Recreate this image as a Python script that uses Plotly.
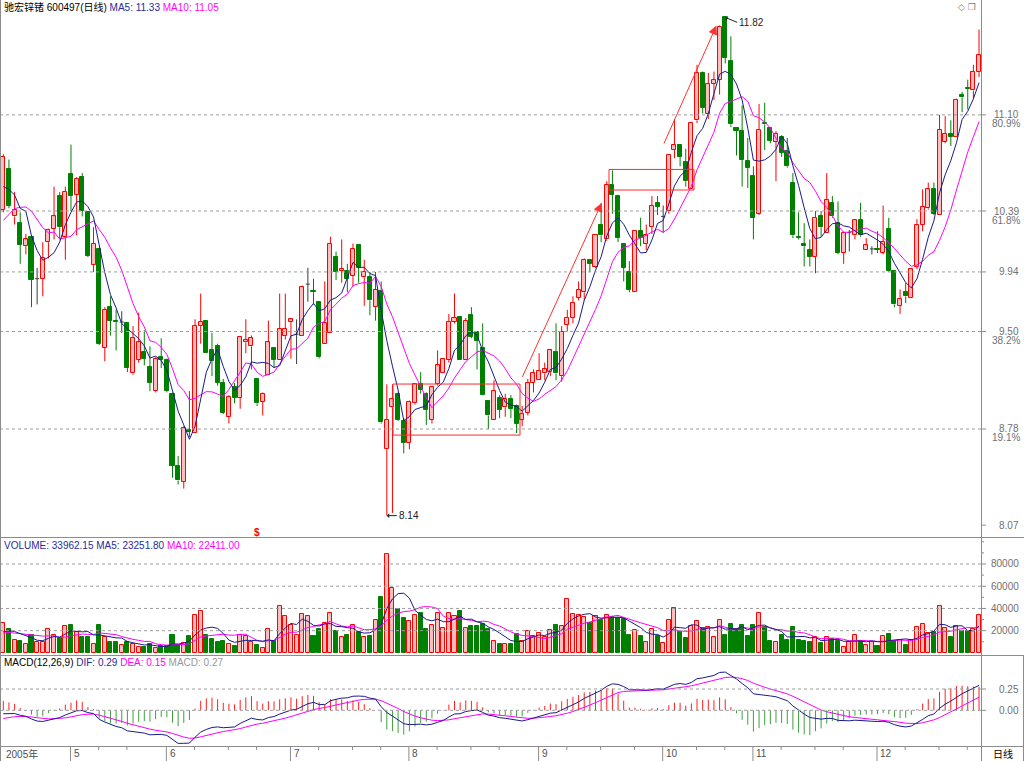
import plotly.graph_objects as go

# ---------------- data ----------------
opens = [10.40, 10.70, 10.35, 10.30, 10.13, 10.20, 9.89, 9.89, 10.16, 10.26,
         10.50, 10.20, 10.66, 10.51, 10.64, 10.38, 9.99, 10.11, 9.38, 9.68,
         9.58, 9.57, 9.56, 9.19, 9.29, 9.35, 9.24, 9.06, 9.31, 9.29,
         9.04, 8.51, 8.39, 8.77, 8.75, 9.54, 9.58, 9.36, 9.39, 9.12,
         8.87, 9.09, 9.01, 9.42, 9.39, 9.15, 8.98, 9.18, 9.38, 9.29,
         9.47, 9.57, 9.48, 9.47, 9.85, 9.80, 9.72, 9.41, 9.49, 10.05,
         9.95, 9.95, 9.91, 10.14, 9.90, 9.90, 9.68, 9.80, 8.63, 8.94,
         9.04, 8.84, 8.68, 8.97, 9.11, 9.04, 8.85, 9.11, 9.19, 9.29,
         9.57, 9.61, 9.29, 9.62, 9.50, 9.38, 8.99, 8.85, 9.01, 8.94,
         9.00, 8.95, 8.85, 8.90, 9.12, 9.14, 9.19, 9.20, 9.35, 9.17,
         9.55, 9.60, 9.75, 9.79, 10.03, 9.98, 10.29, 10.18, 10.58, 10.50,
         10.15, 9.94, 9.79, 10.24, 10.15, 10.27, 10.45, 10.35, 10.39, 10.84,
         10.88, 10.75, 10.55, 11.06, 11.41, 11.11, 11.33, 11.36, 11.82, 11.50,
         11.00, 10.98, 10.76, 10.65, 10.37, 11.04, 11.00, 10.90, 10.94, 10.83,
         10.60, 10.20, 10.15, 10.10, 10.05, 10.35, 10.23, 10.45, 10.30, 10.08,
         10.23, 10.21, 10.32, 10.10, 10.11, 10.11, 10.08, 10.26, 9.95, 9.69,
         9.79, 9.75, 9.98, 10.29, 10.41, 10.55, 10.36, 10.90, 10.96, 10.94,
         11.25, 11.30, 11.28, 11.42]
highs = [10.81, 10.77, 10.53, 10.38, 10.22, 10.21, 9.97, 10.16, 10.26, 10.57,
         10.53, 10.57, 10.88, 10.64, 10.67, 10.39, 10.27, 10.12, 9.68, 9.76,
         9.66, 9.65, 9.57, 9.54, 9.64, 9.51, 9.39, 9.31, 9.45, 9.30,
         9.05, 8.58, 8.80, 9.06, 9.59, 9.78, 9.58, 9.49, 9.41, 9.15,
         9.03, 9.12, 9.46, 9.59, 9.47, 9.15, 9.05, 9.58, 9.38, 9.78,
         9.78, 9.60, 9.59, 9.84, 9.97, 9.89, 9.72, 9.87, 10.20, 10.09,
         10.18, 10.00, 10.15, 10.14, 10.03, 9.94, 9.94, 9.87, 9.11, 9.11,
         9.05, 8.86, 8.99, 9.11, 9.20, 9.05, 9.09, 9.36, 9.30, 9.63,
         9.78, 9.61, 9.60, 9.68, 9.50, 9.56, 8.99, 9.14, 9.03, 9.04,
         9.03, 8.96, 8.95, 9.15, 9.22, 9.34, 9.27, 9.37, 9.56, 9.54,
         9.66, 9.76, 9.87, 10.04, 10.03, 10.21, 10.45, 10.61, 10.69, 10.51,
         10.15, 10.02, 10.24, 10.34, 10.29, 10.50, 10.50, 10.43, 10.80, 11.07,
         10.88, 10.85, 11.04, 11.47, 11.42, 11.41, 11.42, 11.76, 11.82, 11.68,
         11.00, 11.17, 10.93, 10.72, 11.18, 11.19, 11.01, 10.98, 10.95, 10.93,
         10.67, 10.38, 10.30, 10.18, 10.39, 10.39, 10.67, 10.50, 10.46, 10.24,
         10.25, 10.33, 10.45, 10.19, 10.13, 10.24, 10.43, 10.34, 9.95, 9.81,
         9.86, 9.97, 10.33, 10.55, 10.60, 10.60, 11.10, 11.09, 11.06, 11.22,
         11.27, 11.36, 11.47, 11.73]
lows = [10.38, 10.41, 10.29, 10.00, 10.07, 9.68, 9.70, 9.76, 10.04, 10.18,
        10.18, 10.03, 10.39, 10.21, 10.35, 10.05, 9.94, 9.40, 9.28, 9.47,
        9.36, 9.49, 9.20, 9.18, 9.27, 9.25, 9.06, 9.05, 9.23, 9.05,
        8.42, 8.37, 8.34, 8.72, 8.75, 9.41, 9.34, 9.17, 9.10, 8.89,
        8.82, 8.97, 8.93, 9.34, 9.22, 8.95, 8.88, 9.18, 9.23, 9.29,
        9.44, 9.30, 9.26, 9.47, 9.72, 9.70, 9.30, 9.41, 9.49, 9.88,
        9.86, 9.79, 9.83, 9.86, 9.69, 9.62, 9.58, 8.82, 8.14, 8.16,
        8.84, 8.60, 8.63, 8.96, 9.04, 8.81, 8.82, 9.10, 9.19, 9.27,
        9.56, 9.29, 9.29, 9.45, 9.22, 9.03, 8.78, 8.85, 8.86, 8.87,
        8.86, 8.75, 8.80, 8.88, 9.05, 9.14, 9.14, 9.17, 9.14, 9.13,
        9.50, 9.56, 9.73, 9.73, 9.94, 9.97, 10.16, 10.17, 10.37, 10.16,
        9.87, 9.79, 9.79, 10.13, 10.10, 10.22, 10.36, 10.23, 10.37, 10.78,
        10.72, 10.57, 10.55, 11.04, 11.11, 11.07, 11.21, 11.25, 11.48, 11.01,
        10.80, 10.57, 10.56, 10.18, 10.36, 10.84, 10.89, 10.61, 10.79, 10.71,
        10.19, 10.18, 9.98, 9.98, 9.93, 10.20, 10.23, 10.34, 10.07, 10.00,
        10.09, 10.18, 10.20, 10.10, 10.07, 10.08, 10.07, 9.94, 9.68, 9.63,
        9.71, 9.75, 9.96, 10.24, 10.40, 10.36, 10.36, 10.89, 10.87, 10.94,
        11.12, 11.14, 11.22, 11.38]
closes = [10.79, 10.43, 10.40, 10.14, 10.18, 9.88, 9.89, 10.04, 10.25, 10.35,
          10.27, 10.53, 10.50, 10.63, 10.39, 10.06, 10.15, 9.41, 9.66, 9.58,
          9.57, 9.57, 9.23, 9.45, 9.42, 9.30, 9.12, 9.30, 9.29, 9.06,
          8.51, 8.40, 8.79, 8.76, 9.54, 9.57, 9.34, 9.28, 9.12, 8.90,
          9.02, 9.01, 9.46, 9.44, 9.45, 8.97, 9.04, 9.42, 9.29, 9.52,
          9.52, 9.59, 9.48, 9.83, 9.85, 9.79, 9.31, 9.56, 10.15, 9.94,
          9.96, 9.89, 10.11, 9.97, 9.94, 9.73, 9.81, 8.83, 8.85, 9.00,
          8.85, 8.68, 8.98, 9.11, 9.07, 8.92, 9.09, 9.25, 9.30, 9.57,
          9.60, 9.29, 9.58, 9.46, 9.43, 9.03, 8.88, 9.06, 8.92, 9.00,
          8.93, 8.82, 8.89, 9.12, 9.19, 9.21, 9.22, 9.36, 9.19, 9.50,
          9.60, 9.71, 9.81, 10.03, 10.00, 10.21, 10.21, 10.58, 10.51, 10.19,
          9.97, 9.81, 10.24, 10.19, 10.21, 10.43, 10.42, 10.35, 10.80, 10.88,
          10.79, 10.61, 11.04, 11.41, 11.15, 11.33, 11.36, 11.75, 11.52, 11.03,
          10.98, 10.77, 10.71, 10.34, 10.99, 11.03, 10.91, 10.96, 10.82, 10.72,
          10.21, 10.19, 10.13, 10.05, 10.34, 10.27, 10.47, 10.35, 10.08, 10.23,
          10.23, 10.32, 10.21, 10.14, 10.11, 10.10, 10.16, 9.95, 9.70, 9.74,
          9.76, 9.96, 10.29, 10.42, 10.55, 10.37, 10.99, 10.96, 10.94, 11.21,
          11.23, 11.29, 11.42, 11.54]
volumes = [27070, 21060, 12030, 10830, 7820, 16540, 9630, 10230, 21060, 16540,
           13240, 23760, 24670, 18650, 14440, 14740, 8120, 24970, 14140, 10230,
           10230, 7220, 9630, 8120, 5720, 5110, 7820, 4210, 6020, 6020,
           16240, 7220, 8720, 15040, 33690, 37900, 16540, 12630, 9630, 10530,
           8120, 6620, 16240, 15040, 10230, 7220, 4210, 21660, 11130, 42410,
           32790, 24670, 16540, 35190, 32790, 15040, 21060, 27070, 35800, 20150,
           14140, 16240, 24670, 19250, 14740, 15640, 29180, 50230, 89340, 58660,
           39100, 31280, 28280, 33690, 36100, 21060, 25270, 35800, 22260, 35800,
           32790, 37300, 22260, 23760, 23760, 26170, 21060, 10530, 8120, 8120,
           7820, 16840, 10830, 19850, 15040, 18050, 14440, 20760, 24670, 24060,
           48430, 35190, 33690, 32190, 27070, 33390, 30000, 34290, 32190, 31000,
           30080, 16540, 20760, 15530, 9630, 21480, 15530, 9040, 29480, 40740,
           18520, 13190, 24440, 28300, 22370, 23560, 14670, 29480, 16150, 25930,
           21480, 25040, 15560, 25330, 36300, 22960, 11110, 9630, 16150, 11700,
           23560, 11700, 11110, 9630, 14070, 8740, 14670, 12590, 11110, 5190,
           9630, 16150, 11110, 7560, 9630, 5780, 15560, 17040, 11110, 11700,
           7560, 11700, 23560, 26000, 18000, 18520, 42220, 22000, 14070, 24440,
           19410, 20000, 21480, 33962]
# closes / volumes just before the first visible day (for the moving averages)
prior_closes = [9.95, 10.00, 10.05, 10.15, 10.20, 10.53, 10.61, 10.635, 10.285]
prior_volumes = [15000, 18000, 16000, 14000, 20000, 17000, 15000, 19000, 17000]
# EMA state just before the first visible day (for MACD)
ema12_seed = 10.37
ema26_seed = 10.45
dea_seed = -0.11

month_ticks = [0, 12, 29, 51, 72, 95, 117, 133, 155]
month_labels = ["2005年", "5", "6", "7", "8", "9", "10", "11", "12"]
minor_ticks = [17, 22, 34, 40, 45, 56, 62, 67, 77, 83, 88, 100, 106, 112,
               123, 128, 138, 144, 149, 160, 166, 171]
price_levels = [11.10, 10.39, 9.94, 9.50, 8.78, 8.07]
price_pcts = ["80.9%", "61.8%", "", "38.2%", "19.1%", ""]
price_grid = [11.10, 10.39, 9.94, 9.50, 8.78]
vol_levels = [80000, 60000, 40000, 20000]
macd_levels = [0.25, 0.00]

assert len(opens) == len(highs) == len(lows) == len(closes) == len(volumes) == 174

# ---------------- indicators ----------------
N = len(closes)
idx = list(range(N))


def sma(series, prior, n):
    full = list(prior) + list(series)
    off = len(prior)
    out = []
    for i in range(len(series)):
        j = i + off
        w = full[max(0, j - n + 1): j + 1]
        out.append(sum(w) / len(w))
    return out


ma5 = sma(closes, prior_closes, 5)
ma10 = sma(closes, prior_closes, 10)
vma5 = sma(volumes, prior_volumes, 5)
vma10 = sma(volumes, prior_volumes, 10)

e12, e26, dea = ema12_seed, ema26_seed, dea_seed
difs, deas, hists = [], [], []
for c in closes:
    e12 += 2 / 13 * (c - e12)
    e26 += 2 / 27 * (c - e26)
    d = e12 - e26
    dea += 2 / 10 * (d - dea)
    difs.append(d)
    deas.append(dea)
    hists.append(2 * (d - dea))

# ---------------- geometry ----------------
W, H = 1024, 761
XR = 981
X0PX, DX = 3.3, 5.64


def px2i(px):
    return (px - X0PX) / DX


def fy(px):
    return 1 - px / H


MAIN_TOP, MAIN_BOT = 12, 537
P_REF, P_REF_PX, P_SCALE = 10.39, 211, 135.4
main_range = [P_REF - (MAIN_BOT - P_REF_PX) / P_SCALE, P_REF + (P_REF_PX - MAIN_TOP) / P_SCALE]
VOL_TOP, VOL_BOT, VOL_ZERO_PX, VOL_PX_PER = 537, 655, 652.9, 22.23 / 20000
vol_range = [-(VOL_BOT - VOL_ZERO_PX) / VOL_PX_PER, (VOL_ZERO_PX - VOL_TOP) / VOL_PX_PER]
MACD_TOP, MACD_BOT, MACD_ZERO_PX, MACD_PX_PER = 655, 746, 710.3, 85.2
macd_range = [-(MACD_BOT - MACD_ZERO_PX) / MACD_PX_PER, (MACD_ZERO_PX - MACD_TOP) / MACD_PX_PER]

RED = "#ff0000"
PINK = "#ffbcbc"
GREEN = "#008000"
NAVY = "#1a1a8c"
MAG = "#ff00ff"
GRID = "#9c9c9c"
BORDER = "#8c8c8c"
FONT = "Liberation Sans, Arial, Noto Sans CJK SC, sans-serif"

fig = go.Figure()

# ---------------- candles ----------------
up = [i for i in idx if closes[i] > opens[i]]
dn = [i for i in idx if closes[i] < opens[i]]
dj = [i for i in idx if closes[i] == opens[i]]


def wick_segments(ids):
    xs, ys = [], []
    for i in ids:
        lo_b, hi_b = min(opens[i], closes[i]), max(opens[i], closes[i])
        xs += [i, i, None, i, i, None]
        ys += [lows[i], lo_b, None, hi_b, highs[i], None]
    return xs, ys


for ids, col in [(up, RED), (dn, GREEN)]:
    xs, ys = wick_segments(ids)
    fig.add_trace(go.Scatter(x=xs, y=ys, mode="lines", line=dict(color=col, width=1),
                             hoverinfo="skip", xaxis="x", yaxis="y"))

fig.add_trace(go.Bar(x=up, y=[closes[i] - opens[i] for i in up], base=[opens[i] for i in up],
                     width=0.72, marker=dict(color=PINK, line=dict(color=RED, width=1)),
                     xaxis="x", yaxis="y"))
fig.add_trace(go.Bar(x=dn, y=[opens[i] - closes[i] for i in dn], base=[closes[i] for i in dn],
                     width=0.72, marker=dict(color=GREEN, line=dict(color=GREEN, width=1)),
                     xaxis="x", yaxis="y"))
dx_, dy_ = [], []
for i in dj:
    dx_ += [i, i, None, i - 0.36, i + 0.36, None]
    dy_ += [lows[i], highs[i], None, closes[i], closes[i], None]
fig.add_trace(go.Scatter(x=dx_, y=dy_, mode="lines", line=dict(color="#3c3c3c", width=1),
                         xaxis="x", yaxis="y"))

fig.add_trace(go.Scatter(x=idx, y=ma10, mode="lines", line=dict(color=MAG, width=1), xaxis="x", yaxis="y"))
fig.add_trace(go.Scatter(x=idx, y=ma5, mode="lines", line=dict(color=NAVY, width=1), xaxis="x", yaxis="y"))

# ---------------- volume ----------------
vup = [closes[i] >= opens[i] for i in idx]
fig.add_trace(go.Bar(x=idx, y=volumes, width=0.72,
                     marker=dict(color=[PINK if u else GREEN for u in vup],
                                 line=dict(color=[RED if u else GREEN for u in vup], width=1)),
                     xaxis="x", yaxis="y2"))
fig.add_trace(go.Scatter(x=idx, y=vma10, mode="lines", line=dict(color=MAG, width=1), xaxis="x", yaxis="y2"))
fig.add_trace(go.Scatter(x=idx, y=vma5, mode="lines", line=dict(color=NAVY, width=1), xaxis="x", yaxis="y2"))

# ---------------- MACD ----------------
for sign, col in [(1, "#ff2020"), (-1, "#40a040")]:
    xs, ys = [], []
    for i in idx:
        if hists[i] * sign > 0:
            xs += [i, i, None]
            ys += [0, hists[i], None]
    fig.add_trace(go.Scatter(x=xs, y=ys, mode="lines", line=dict(color=col, width=1),
                             xaxis="x", yaxis="y3"))
fig.add_trace(go.Scatter(x=idx, y=deas, mode="lines", line=dict(color=MAG, width=1), xaxis="x", yaxis="y3"))
fig.add_trace(go.Scatter(x=idx, y=difs, mode="lines", line=dict(color=NAVY, width=1), xaxis="x", yaxis="y3"))

# ---------------- shapes ----------------
shapes = []
xr_frac = XR / W


def hline_paper(px, x0=0, x1=1, color=BORDER):
    shapes.append(dict(type="line", xref="paper", yref="paper", x0=x0, x1=x1,
                       y0=fy(px), y1=fy(px), line=dict(color=color, width=1)))


def vline_paper(xpx, y0px, y1px, color=BORDER):
    shapes.append(dict(type="line", xref="paper", yref="paper", x0=xpx / W, x1=xpx / W,
                       y0=fy(y0px), y1=fy(y1px), line=dict(color=color, width=1)))


# gridlines
for lv in price_grid:
    shapes.append(dict(type="line", xref="paper", yref="y", x0=0, x1=xr_frac, y0=lv, y1=lv,
                       line=dict(color=GRID, width=1, dash="dot")))
for lv in vol_levels:
    shapes.append(dict(type="line", xref="paper", yref="y2", x0=0, x1=xr_frac, y0=lv, y1=lv,
                       line=dict(color=GRID, width=1, dash="dot")))
for lv in macd_levels:
    shapes.append(dict(type="line", xref="paper", yref="y3", x0=0, x1=xr_frac, y0=lv, y1=lv,
                       line=dict(color=GRID, width=1, dash="dot")))
# right axis ticks
for lv in price_levels:
    shapes.append(dict(type="line", xref="paper", yref="y", x0=xr_frac, x1=(XR + 5) / W, y0=lv, y1=lv,
                       line=dict(color=BORDER, width=1)))
for lv in range(10000, 100001, 10000):
    ln = 5 if lv in vol_levels else 3
    shapes.append(dict(type="line", xref="paper", yref="y2", x0=xr_frac, x1=(XR + ln) / W, y0=lv, y1=lv,
                       line=dict(color=BORDER, width=1)))
for lv in macd_levels:
    shapes.append(dict(type="line", xref="paper", yref="y3", x0=xr_frac, x1=(XR + 5) / W, y0=lv, y1=lv,
                       line=dict(color=BORDER, width=1)))

# frame
hline_paper(MAIN_BOT + 0.5)
hline_paper(VOL_BOT + 0.5)
hline_paper(MACD_BOT + 0.5)
vline_paper(XR + 0.5, 0, H)
vline_paper(0.5, 0, H)
vline_paper(W - 0.5, VOL_BOT, H)

# date axis ticks
for t in month_ticks[1:]:
    xp = X0PX + DX * t - 0.5
    vline_paper(xp, MACD_BOT, H)
for t in minor_ticks:
    xp = X0PX + DX * t - 0.5
    vline_paper(xp, MACD_BOT, MACD_BOT + 4)

# drawn annotations: boxes
shapes.append(dict(type="rect", xref="x", yref="y", x0=px2i(393), x1=px2i(520), y0=8.735, y1=9.112,
                   line=dict(color="#ff2a2a", width=1)))
shapes.append(dict(type="rect", xref="x", yref="y", x0=px2i(609), x1=px2i(694), y0=10.545, y1=10.697,
                   line=dict(color="#ff2a2a", width=1)))

# ---------------- annotations ----------------
ann = []
# arrows
for (x0p, y0v, x1p, y1v) in [(521.7, 9.154, 601.7, 10.45), (663.3, 10.877, 716.5, 11.76)]:
    ann.append(dict(x=px2i(x1p), y=y1v, ax=px2i(x0p), ay=y0v, xref="x", yref="y", axref="x", ayref="y",
                    text="", showarrow=True, arrowhead=2, arrowsize=1.8, arrowwidth=1,
                    arrowcolor="#ff3030", standoff=0))
# extreme labels
ann.append(dict(x=128, y=11.82, xref="x", yref="y", text="11.82", showarrow=True, ax=12, ay=5,
                arrowhead=1, arrowsize=0.8, arrowwidth=1, arrowcolor="#222", standoff=0,
                xanchor="left", yanchor="middle", font=dict(family=FONT, size=10, color="#222")))
ann.append(dict(x=68, y=8.14, xref="x", yref="y", text="8.14", showarrow=True, ax=10, ay=0,
                arrowhead=1, arrowsize=0.8, arrowwidth=1, arrowcolor="#222", standoff=0,
                xanchor="left", yanchor="middle", font=dict(family=FONT, size=10, color="#222")))
# ex-rights marker
ann.append(dict(x=45, y=fy(532), xref="x", yref="paper", text="<b>$</b>", showarrow=False,
                font=dict(family=FONT, size=10, color="#ff0000"), yanchor="middle"))

# headers
ann.append(dict(x=2 / W, y=fy(7), xref="paper", yref="paper", xanchor="left", yanchor="middle",
                showarrow=False, font=dict(family=FONT, size=10, color="#000"),
                text='驰宏锌锗 600497(日线) <span style="color:#2a2a9a">MA5: 11.33</span> '
                     '<span style="color:#ff00ff">MA10: 11.05</span>'))
ann.append(dict(x=2 / W, y=fy(545), xref="paper", yref="paper", xanchor="left", yanchor="middle",
                showarrow=False, font=dict(family=FONT, size=10, color="#2a2a9a"),
                text='VOLUME: 33962.15 MA5: 23251.80 <span style="color:#ff00ff">MA10: 22411.00</span>'))
ann.append(dict(x=2 / W, y=fy(662), xref="paper", yref="paper", xanchor="left", yanchor="middle",
                showarrow=False, font=dict(family=FONT, size=10, color="#000"),
                text='MACD(12,26,9) <span style="color:#2a2a9a">DIF: 0.29</span> '
                     '<span style="color:#ff00ff">DEA: 0.15</span> '
                     '<span style="color:#999999">MACD: 0.27</span>'))
ann.append(dict(x=978 / W, y=fy(7), xref="paper", yref="paper", xanchor="right", yanchor="middle",
                showarrow=False, font=dict(family="DejaVu Sans", size=9, color="#777"), text="◇ ❐"))

# right axis labels
for lv, pc in zip(price_levels, price_pcts):
    ann.append(dict(x=1021 / W, y=lv, xref="paper", yref="y", xanchor="right", yanchor="middle",
                    showarrow=False, text=f"{lv:.2f}", font=dict(family=FONT, size=10, color="#707070")))
    if pc:
        ann.append(dict(x=1022 / W, y=lv, xref="paper", yref="y", xanchor="right", yanchor="middle",
                        yshift=-9, showarrow=False, text=pc,
                        font=dict(family=FONT, size=10, color="#707070")))
for lv in vol_levels:
    ann.append(dict(x=1021 / W, y=lv, xref="paper", yref="y2", xanchor="right", yanchor="middle",
                    showarrow=False, text=f"{lv}", font=dict(family=FONT, size=10, color="#707070")))
for lv in macd_levels:
    ann.append(dict(x=1021 / W, y=lv, xref="paper", yref="y3", xanchor="right", yanchor="middle",
                    showarrow=False, text=f"{lv:.2f}", font=dict(family=FONT, size=10, color="#707070")))

# date labels
for t, lab in zip(month_ticks, month_labels):
    xp = max(X0PX + DX * t + 1, 2)
    ann.append(dict(x=xp / W, y=fy(753.5), xref="paper", yref="paper", xanchor="left", yanchor="middle",
                    showarrow=False, text=lab, font=dict(family=FONT, size=10, color="#505050")))
ann.append(dict(x=1003 / W, y=fy(753.5), xref="paper", yref="paper", xanchor="center", yanchor="middle",
                showarrow=False, text="日线", font=dict(family=FONT, size=10, color="#000")))

axis_off = dict(visible=False, showgrid=False, zeroline=False, fixedrange=True)
fig.update_layout(
    width=W, height=H, autosize=False,
    margin=dict(l=0, r=0, t=0, b=0, pad=0),
    paper_bgcolor="white", plot_bgcolor="white",
    showlegend=False, barmode="overlay", bargap=0,
    xaxis=dict(domain=[0, xr_frac], range=[px2i(0), px2i(XR)], **axis_off),
    yaxis=dict(domain=[fy(MAIN_BOT), fy(MAIN_TOP)], range=main_range, anchor="x", **axis_off),
    yaxis2=dict(domain=[fy(VOL_BOT), fy(VOL_TOP)], range=vol_range, anchor="x", **axis_off),
    yaxis3=dict(domain=[fy(MACD_BOT), fy(MACD_TOP)], range=macd_range, anchor="x", **axis_off),
    shapes=shapes, annotations=ann,
    hovermode=False,
)
fig.write_html("out.html")
